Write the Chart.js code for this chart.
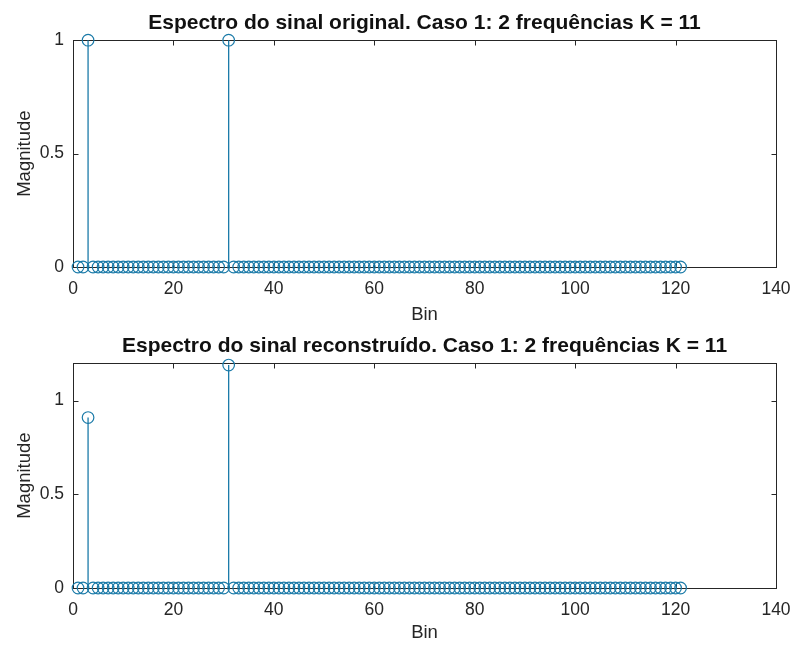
<!DOCTYPE html>
<html>
<head>
<meta charset="utf-8">
<script src="https://cdn.jsdelivr.net/npm/chart.js@4.4.1/dist/chart.umd.min.js"></script>
<style>
  html, body { margin: 0; padding: 0; background: #fff; }
  #wrap { position: relative; width: 793px; height: 648px; }
  #caixaOriginal { position: absolute; left: 0; top: 0; width: 793px; height: 330px; }
  #caixaReconstruido { position: absolute; left: 0; top: 330px; width: 793px; height: 318px; }
</style>
</head>
<body>
<div id="wrap">
  <div id="caixaOriginal"><canvas id="espectroOriginal"></canvas></div>
  <div id="caixaReconstruido"><canvas id="espectroReconstruido"></canvas></div>
</div>
<script>
// bins da FFT (1..121)
const bins = [
  1, 2, 3, 4, 5, 6, 7, 8, 9, 10,
  11, 12, 13, 14, 15, 16, 17, 18, 19, 20,
  21, 22, 23, 24, 25, 26, 27, 28, 29, 30,
  31, 32, 33, 34, 35, 36, 37, 38, 39, 40,
  41, 42, 43, 44, 45, 46, 47, 48, 49, 50,
  51, 52, 53, 54, 55, 56, 57, 58, 59, 60,
  61, 62, 63, 64, 65, 66, 67, 68, 69, 70,
  71, 72, 73, 74, 75, 76, 77, 78, 79, 80,
  81, 82, 83, 84, 85, 86, 87, 88, 89, 90,
  91, 92, 93, 94, 95, 96, 97, 98, 99, 100,
  101, 102, 103, 104, 105, 106, 107, 108, 109, 110,
  111, 112, 113, 114, 115, 116, 117, 118, 119, 120,
  121
];

// magnitude do sinal original
const magOriginal = [
  0, 0, 1, 0, 0, 0, 0, 0, 0, 0,
  0, 0, 0, 0, 0, 0, 0, 0, 0, 0,
  0, 0, 0, 0, 0, 0, 0, 0, 0, 0,
  1, 0, 0, 0, 0, 0, 0, 0, 0, 0,
  0, 0, 0, 0, 0, 0, 0, 0, 0, 0,
  0, 0, 0, 0, 0, 0, 0, 0, 0, 0,
  0, 0, 0, 0, 0, 0, 0, 0, 0, 0,
  0, 0, 0, 0, 0, 0, 0, 0, 0, 0,
  0, 0, 0, 0, 0, 0, 0, 0, 0, 0,
  0, 0, 0, 0, 0, 0, 0, 0, 0, 0,
  0, 0, 0, 0, 0, 0, 0, 0, 0, 0,
  0, 0, 0, 0, 0, 0, 0, 0, 0, 0,
  0
];

// magnitude do sinal reconstruido
const magReconstruido = [
  0, 0, 0.91, 0, 0, 0, 0, 0, 0, 0,
  0, 0, 0, 0, 0, 0, 0, 0, 0, 0,
  0, 0, 0, 0, 0, 0, 0, 0, 0, 0,
  1.19, 0, 0, 0, 0, 0, 0, 0, 0, 0,
  0, 0, 0, 0, 0, 0, 0, 0, 0, 0,
  0, 0, 0, 0, 0, 0, 0, 0, 0, 0,
  0, 0, 0, 0, 0, 0, 0, 0, 0, 0,
  0, 0, 0, 0, 0, 0, 0, 0, 0, 0,
  0, 0, 0, 0, 0, 0, 0, 0, 0, 0,
  0, 0, 0, 0, 0, 0, 0, 0, 0, 0,
  0, 0, 0, 0, 0, 0, 0, 0, 0, 0,
  0, 0, 0, 0, 0, 0, 0, 0, 0, 0,
  0
];

const xTicks = [0, 20, 40, 60, 80, 100, 120, 140];
const yTicksOriginal = [0, 0.5, 1];
const yTicksReconstruido = [0, 0.5, 1];

const fonte = "'Liberation Sans', Arial, Helvetica, sans-serif";
const corStem = 'rgb(26, 122, 168)';
const corEixo = '#262626';

// caixa, ticks para dentro e hastes (estilo stem do matlab)
const eixosMatlab = {
  id: 'eixosMatlab',
  afterLayout(chart) {
    // titulo centrado sobre os eixos, nao sobre o canvas
    if (chart.titleBlock) {
      chart.titleBlock.left = chart.chartArea.left;
      chart.titleBlock.right = chart.chartArea.right;
      chart.titleBlock.width = chart.chartArea.right - chart.chartArea.left;
    }
  },
  beforeDatasetsDraw(chart) {
    const { ctx, chartArea: a, scales: { x, y } } = chart;
    const L = Math.round(a.left) + 0.5, R = Math.round(a.right) + 0.5;
    const T = Math.round(a.top) + 0.5, B = Math.round(a.bottom) + 0.5;
    const len = 5;
    ctx.save();
    ctx.strokeStyle = corEixo;
    ctx.lineWidth = 1;
    ctx.strokeRect(L, T, R - L, B - T);
    ctx.beginPath();
    x.ticks.forEach(t => {
      const px = Math.round(x.getPixelForValue(t.value)) + 0.5;
      ctx.moveTo(px, B); ctx.lineTo(px, B - len);
      ctx.moveTo(px, T); ctx.lineTo(px, T + len);
    });
    y.ticks.forEach(t => {
      const py = Math.round(y.getPixelForValue(t.value)) + 0.5;
      ctx.moveTo(L, py); ctx.lineTo(L + len, py);
      ctx.moveTo(R, py); ctx.lineTo(R - len, py);
    });
    ctx.stroke();

    const y0 = y.getPixelForValue(0);
    ctx.strokeStyle = corStem;
    ctx.lineWidth = 1.3;
    chart.getDatasetMeta(0).data.forEach(p => {
      ctx.beginPath();
      ctx.moveTo(p.x, y0);
      ctx.lineTo(p.x, p.y);
      ctx.stroke();
    });
    ctx.restore();
  }
};

function criarEspectro(id, valores, yMax, yTicks, titulo, tituloTopo, alturaX) {
  return new Chart(document.getElementById(id), {
    type: 'scatter',
    data: {
      datasets: [{
        data: bins.map((b, i) => ({ x: b, y: valores[i] })),
        showLine: false,
        pointStyle: 'circle',
        pointRadius: 5.8,
        pointBorderWidth: 1.2,
        pointBorderColor: corStem,
        pointBackgroundColor: 'rgba(0,0,0,0)',
        clip: false
      }]
    },
    options: {
      responsive: true,
      maintainAspectRatio: false,
      animation: false,
      layout: { padding: { left: 0, right: 17, top: 0, bottom: 0 } },
      plugins: {
        legend: { display: false },
        tooltip: { enabled: false },
        title: {
          display: true,
          text: titulo,
          color: '#111',
          font: { family: fonte, size: 21, weight: 'bold' },
          padding: { top: tituloTopo, bottom: 4 }
        }
      },
      scales: {
        x: {
          type: 'linear',
          min: 0,
          max: 140,
          afterBuildTicks: s => { s.ticks = xTicks.map(v => ({ value: v })); },
          afterFit: s => { s.height = alturaX; s.paddingLeft = 0; s.paddingRight = 0; },
          grid: { display: false, drawTicks: false },
          border: { display: false },
          ticks: { color: corEixo, font: { family: fonte, size: 17.5 }, padding: 12, maxRotation: 0 },
          title: {
            display: true, text: 'Bin', color: corEixo,
            font: { family: fonte, size: 18.5 }, padding: { top: 0, bottom: 4 }
          }
        },
        y: {
          min: 0,
          max: yMax,
          afterBuildTicks: s => { s.ticks = yTicks.map(v => ({ value: v })); },
          afterFit: s => { s.width = 73; s.paddingTop = 0; s.paddingBottom = 0; },
          grid: { display: false, drawTicks: false },
          border: { display: false },
          ticks: {
            color: corEixo, font: { family: fonte, size: 17.5 }, padding: 9,
            callback: v => String(v)
          },
          title: {
            display: true, text: 'Magnitude', color: corEixo,
            font: { family: fonte, size: 18.5 }, padding: { top: 14, bottom: 0 }
          }
        }
      }
    },
    plugins: [eixosMatlab]
  });
}

criarEspectro('espectroOriginal', magOriginal, 1, yTicksOriginal,
  'Espectro do sinal original. Caso 1: 2 frequências K = 11', 11, 63);
criarEspectro('espectroReconstruido', magReconstruido, 1.2, yTicksReconstruido,
  'Espectro do sinal reconstruído. Caso 1: 2 frequências K = 11', 4, 60);
</script>
</body>
</html>
